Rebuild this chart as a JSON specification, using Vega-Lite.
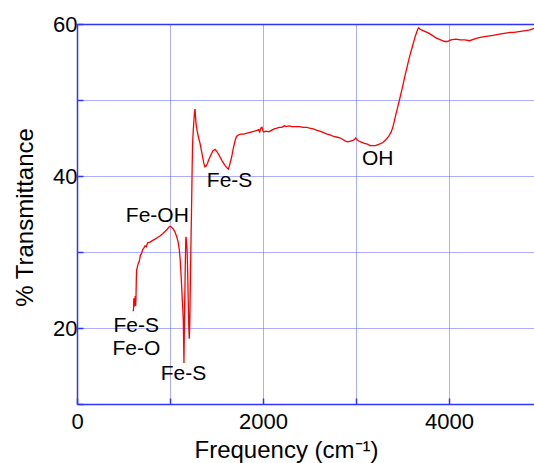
{
  "$schema": "https://vega.github.io/schema/vega-lite/v6.json",
  "width": 457,
  "height": 380,
  "autosize": {"type": "none"},
  "padding": {"left": 77, "top": 24, "right": 0, "bottom": 59},
  "background": "white",
  "config": {"view": {"stroke": null}, "font": "Liberation Sans"},
  "layer": [
    {
      "data": {"values": [
        {"freq":605,"T":22.2},{"freq":608,"T":22.6},{"freq":611,"T":23.9},{"freq":614,"T":22.8},{"freq":618,"T":23.8},{"freq":622,"T":23.2},{"freq":626,"T":24.2},{"freq":630,"T":22.9},{"freq":634,"T":23.8},{"freq":638,"T":26.5},{"freq":641,"T":27.6},{"freq":650,"T":28.1},{"freq":659,"T":28.5},{"freq":670,"T":28.8},{"freq":682,"T":29.6},{"freq":695,"T":29.8},{"freq":705,"T":30.3},{"freq":718,"T":30.5},{"freq":731,"T":30.8},{"freq":745,"T":30.7},{"freq":760,"T":31.2},{"freq":785,"T":31.3},{"freq":810,"T":31.5},{"freq":839,"T":31.7},{"freq":865,"T":31.9},{"freq":892,"T":32.1},{"freq":920,"T":32.4},{"freq":946,"T":32.7},{"freq":970,"T":33.0},{"freq":990,"T":33.3},{"freq":1000,"T":33.4},{"freq":1015,"T":33.3},{"freq":1036,"T":33.0},{"freq":1055,"T":32.6},{"freq":1072,"T":32.0},{"freq":1088,"T":31.3},{"freq":1100,"T":30.3},{"freq":1110,"T":28.9},{"freq":1118,"T":27.2},{"freq":1126,"T":25.3},{"freq":1132,"T":23.7},{"freq":1139,"T":22.2},{"freq":1143,"T":21.0},{"freq":1147,"T":18.0},{"freq":1150,"T":15.4},{"freq":1154,"T":19.5},{"freq":1158,"T":23.5},{"freq":1161,"T":25.5},{"freq":1166,"T":29.5},{"freq":1170,"T":31.8},{"freq":1173,"T":32.0},{"freq":1178,"T":31.2},{"freq":1183,"T":30.4},{"freq":1188,"T":28.5},{"freq":1193,"T":25.5},{"freq":1197,"T":23.0},{"freq":1202,"T":20.2},{"freq":1207,"T":18.6},{"freq":1211,"T":19.8},{"freq":1215,"T":22.5},{"freq":1220,"T":27.0},{"freq":1226,"T":31.6},{"freq":1230,"T":34.5},{"freq":1234,"T":37.5},{"freq":1238,"T":41.0},{"freq":1243,"T":44.3},{"freq":1250,"T":46.0},{"freq":1258,"T":47.4},{"freq":1264,"T":48.5},{"freq":1269,"T":48.8},{"freq":1274,"T":47.9},{"freq":1280,"T":46.9},{"freq":1287,"T":46.3},{"freq":1294,"T":45.8},{"freq":1308,"T":45.0},{"freq":1323,"T":44.3},{"freq":1337,"T":43.4},{"freq":1351,"T":42.5},{"freq":1363,"T":41.7},{"freq":1376,"T":41.2},{"freq":1388,"T":41.3},{"freq":1401,"T":41.6},{"freq":1419,"T":42.2},{"freq":1437,"T":42.7},{"freq":1460,"T":43.3},{"freq":1484,"T":43.5},{"freq":1505,"T":43.2},{"freq":1520,"T":42.9},{"freq":1538,"T":42.5},{"freq":1560,"T":42.0},{"freq":1591,"T":41.4},{"freq":1610,"T":41.1},{"freq":1627,"T":40.9},{"freq":1640,"T":41.4},{"freq":1650,"T":41.9},{"freq":1663,"T":42.5},{"freq":1680,"T":43.6},{"freq":1699,"T":44.6},{"freq":1715,"T":45.2},{"freq":1735,"T":45.4},{"freq":1760,"T":45.5},{"freq":1790,"T":45.5},{"freq":1820,"T":45.6},{"freq":1850,"T":45.7},{"freq":1880,"T":45.8},{"freq":1910,"T":45.9},{"freq":1935,"T":46.0},{"freq":1953,"T":46.1},{"freq":1965,"T":45.8},{"freq":1975,"T":46.3},{"freq":1989,"T":46.4},{"freq":2000,"T":45.9},{"freq":2008,"T":45.8},{"freq":2030,"T":45.9},{"freq":2063,"T":45.8},{"freq":2090,"T":46.0},{"freq":2120,"T":46.2},{"freq":2150,"T":46.3},{"freq":2172,"T":46.4},{"freq":2200,"T":46.4},{"freq":2230,"T":46.6},{"freq":2250,"T":46.5},{"freq":2282,"T":46.6},{"freq":2310,"T":46.5},{"freq":2350,"T":46.5},{"freq":2392,"T":46.5},{"freq":2430,"T":46.4},{"freq":2470,"T":46.4},{"freq":2501,"T":46.3},{"freq":2540,"T":46.2},{"freq":2580,"T":46.0},{"freq":2611,"T":45.9},{"freq":2650,"T":45.7},{"freq":2690,"T":45.5},{"freq":2721,"T":45.4},{"freq":2760,"T":45.2},{"freq":2800,"T":45.1},{"freq":2831,"T":45.0},{"freq":2860,"T":44.8},{"freq":2885,"T":44.6},{"freq":2910,"T":44.5},{"freq":2940,"T":44.6},{"freq":2965,"T":44.7},{"freq":2985,"T":44.8},{"freq":2995,"T":45.0},{"freq":3010,"T":44.8},{"freq":3030,"T":44.6},{"freq":3050,"T":44.5},{"freq":3090,"T":44.3},{"freq":3123,"T":44.2},{"freq":3150,"T":44.0},{"freq":3178,"T":44.0},{"freq":3210,"T":44.0},{"freq":3251,"T":44.2},{"freq":3290,"T":44.4},{"freq":3324,"T":44.8},{"freq":3350,"T":45.2},{"freq":3379,"T":45.8},{"freq":3400,"T":46.6},{"freq":3423,"T":47.8},{"freq":3447,"T":49.0},{"freq":3471,"T":50.2},{"freq":3498,"T":51.6},{"freq":3525,"T":53.1},{"freq":3552,"T":54.5},{"freq":3580,"T":55.9},{"freq":3608,"T":57.1},{"freq":3635,"T":58.3},{"freq":3655,"T":59.0},{"freq":3672,"T":59.5},{"freq":3690,"T":59.3},{"freq":3708,"T":59.2},{"freq":3745,"T":59.0},{"freq":3781,"T":58.8},{"freq":3820,"T":58.5},{"freq":3855,"T":58.2},{"freq":3890,"T":58.0},{"freq":3928,"T":57.8},{"freq":3955,"T":57.7},{"freq":3982,"T":57.7},{"freq":4020,"T":57.9},{"freq":4074,"T":58.0},{"freq":4120,"T":57.9},{"freq":4170,"T":57.9},{"freq":4220,"T":57.8},{"freq":4270,"T":58.0},{"freq":4320,"T":58.2},{"freq":4366,"T":58.3},{"freq":4420,"T":58.4},{"freq":4470,"T":58.5},{"freq":4513,"T":58.6},{"freq":4560,"T":58.7},{"freq":4610,"T":58.8},{"freq":4659,"T":58.9},{"freq":4700,"T":58.9},{"freq":4750,"T":59.0},{"freq":4805,"T":59.1},{"freq":4860,"T":59.2},{"freq":4908,"T":59.4},{"freq":4950,"T":59.5}
      ]},
      "mark": {"type": "line", "color": "#ff0000", "strokeWidth": 1.3, "clip": true},
      "encoding": {
        "x": {
          "field": "freq", "type": "quantitative",
          "scale": {"domain": [0, 4914], "nice": false, "zero": false},
          "axis": {
            "values": [0, 1000, 2000, 3000, 4000],
            "labelExpr": "datum.value % 2000 == 0 ? datum.label : ''",
            "format": "d",
            "labelFlush": false, "labelOverlap": false,
            "labelFontSize": 22, "labelFont": "Liberation Sans", "labelColor": "black",
            "labelPadding": 13,
            "tickSize": -6, "tickColor": "#3333ff", "tickWidth": 1.5,
            "domainColor": "#3333ff", "domainWidth": 1.5,
            "grid": true, "gridColor": "#5a5aff", "gridDash": [1, 1], "gridWidth": 1,
            "title": "Frequency  (cm⁻¹)",
            "titleFontSize": 24, "titleFont": "Liberation Sans", "titleFontWeight": "normal", "titleColor": "black",
            "titleX": 209, "titleY": 53, "titleAlign": "center", "titleBaseline": "alphabetic"
          }
        },
        "y": {
          "field": "T", "type": "quantitative",
          "scale": {"domain": [10, 60], "nice": false, "zero": false},
          "axis": {
            "values": [10, 20, 30, 40, 50, 60],
            "labelExpr": "datum.value % 20 == 0 ? datum.label : ''",
            "labelFlush": false, "labelOverlap": false,
            "labelFontSize": 22, "labelFont": "Liberation Sans", "labelColor": "black",
            "labelPadding": 6,
            "tickSize": -6, "tickColor": "#3333ff", "tickWidth": 1.5,
            "domainColor": "#3333ff", "domainWidth": 1.5,
            "grid": true, "gridColor": "#5a5aff", "gridDash": [1, 1], "gridWidth": 1,
            "title": "% Transmittance",
            "titleFontSize": 24, "titleFont": "Liberation Sans", "titleFontWeight": "normal", "titleColor": "black",
            "titleX": -45, "titleY": 193, "titleAlign": "center", "titleBaseline": "alphabetic", "titleAngle": 270
          }
        }
      }
    },
    {
      "data": {"values": [
        {"freq": 864, "T": 34.8, "label": "Fe-OH"},
        {"freq": 637, "T": 20.2, "label": "Fe-S"},
        {"freq": 639, "T": 17.3, "label": "Fe-O"},
        {"freq": 1145, "T": 13.95, "label": "Fe-S"},
        {"freq": 1641, "T": 39.35, "label": "Fe-S"},
        {"freq": 3234, "T": 42.2, "label": "OH"}
      ]},
      "mark": {"type": "text", "fontSize": 21, "font": "Liberation Sans", "color": "black", "align": "center", "baseline": "middle"},
      "encoding": {
        "x": {
          "field": "freq", "type": "quantitative",
          "axis": {"orient": "top", "labels": false, "ticks": false, "grid": false, "title": null, "domainColor": "#3333ff", "domainWidth": 1.5}
        },
        "y": {"field": "T", "type": "quantitative"},
        "text": {"field": "label"}
      }
    }
  ],
  "resolve": {"axis": {"x": "independent"}}
}
